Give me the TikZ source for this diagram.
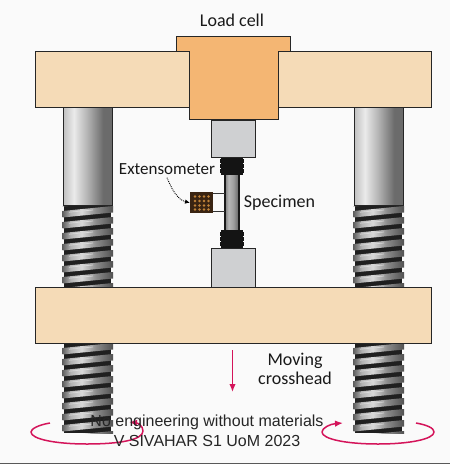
\documentclass[tikz,border=0pt]{standalone}
\usepackage{fontspec}
\setmainfont{Liberation Sans}
\newfontfamily\labelfont{Carlito}
\usetikzlibrary{arrows.meta}
\definecolor{beam}{HTML}{F5DBB7}
\definecolor{cell}{HTML}{F4B673}
\definecolor{gripc}{HTML}{CFD0D2}
\definecolor{redc}{HTML}{D4145A}
\definecolor{bgc}{HTML}{FAFAFA}
\definecolor{boxc}{HTML}{3A2412}
\definecolor{dotc}{HTML}{C08238}
\pgfdeclarehorizontalshading{shaftshade}{100bp}{
  color(0bp)=(black!25); color(25bp)=(black!25); color(36bp)=(black!8); color(50bp)=(black!30);
  color(66bp)=(black!58); color(75bp)=(black!58); color(100bp)=(black!58)}
\pgfdeclarehorizontalshading{threadshade}{100bp}{
  color(0bp)=(black!62); color(25bp)=(black!62); color(33bp)=(black!30); color(44bp)=(black!15);
  color(58bp)=(black!45); color(75bp)=(black!68); color(100bp)=(black!68)}
\pgfdeclarehorizontalshading{specshade}{100bp}{
  color(0bp)=(black!50); color(25bp)=(black!50); color(38bp)=(black!28); color(55bp)=(black!38);
  color(75bp)=(black!62); color(100bp)=(black!62)}
\tikzset{
  outline/.style={draw=black!85,line width=1pt},
  lab/.style={font=\labelfont\fontsize{18}{19}\selectfont,text=black!90,inner sep=0pt,align=center},
  credit/.style={font=\fontsize{16}{18}\selectfont,text=black!85,inner sep=0pt},
  redline/.style={draw=redc,line width=1.5pt},
  redtip/.style={-{Latex[length=8pt,width=6.5pt]}},
}
\newcommand{\shaft}[3]{% x, ytop, ybottom
  \shade[shading=shaftshade] (#1,#2) rectangle (#1+49,#3);
  \draw[black!85,line width=.9pt] (#1,#2) -- (#1,#3) -- (#1+49,#3) -- (#1+49,#2);
}
\newcommand{\thread}[3]{% x, ytop, ybottom
  \fill[black!88] (#1+1,#2) rectangle (#1+48,#3);
  \begin{scope}
    \clip (#1-1,#2) rectangle (#1+51,#3);
    \foreach \yy in {-11,0,...,99}{
      \pgfmathsetmacro{\ya}{#2+\yy}
      \shade[shading=threadshade]
        (#1-.5,\ya+5) -- (#1+50,\ya) -- (#1+50,\ya+6.5) -- (#1-.5,\ya+11.5) -- cycle;
      \draw[white!85!black,line width=.7pt] (#1+6,\ya+6.2) -- (#1+30,\ya+4);
    }
  \end{scope}
}
\begin{document}
\begin{tikzpicture}[x=1pt,y=-1pt]
\useasboundingbox (0,0) rectangle (450,464);
\fill[bgc] (0,0) rectangle (450,464);
\fill[black!65] (0,463) rectangle (450,464);
% screws
\shaft{63}{107}{205}
\shaft{354}{107}{205}
\thread{63}{206}{288}
\thread{354}{206}{288}
\thread{63}{343}{433}
\thread{354}{343}{433}
% top crosshead and load cell
\path[outline,fill=beam] (35,51) rectangle (189,107);
\path[outline,fill=beam] (278,51) rectangle (431,107);
\path[outline,fill=cell] (176,51) -- (176,36) -- (290,36) -- (290,51) -- (278,51) -- (278,119.5) -- (189,119.5) -- (189,51) -- cycle;
% specimen
\shade[shading=specshade] (225,175) rectangle (239,230);
\draw[black!90,line width=1.2pt] (225,175) -- (225,230) (239,175) -- (239,230);
\fill[black!92] (220.5,157) rectangle (243,175);
\fill[black!92] (220.5,230) rectangle (243,248);
\foreach \yy in {159,164,169}{
  \fill[black!92] (219.5,\yy) rectangle (243.5,\yy+4);
}
\foreach \yy in {232,237,242}{
  \fill[black!92] (219.5,\yy) rectangle (243.5,\yy+4);
}
% grips
\path[outline,fill=gripc] (211,120) rectangle (255,157);
\path[outline,fill=gripc] (211,248) rectangle (255,288);
% moving crosshead
\path[outline,fill=beam] (35,287) rectangle (431,343);
% extensometer
\node[fill=boxc,minimum width=23pt,minimum height=21pt,inner sep=0pt,anchor=north west] (ext) at (190,192) {};
\foreach \px in {195,199.5,204,208.5}{
  \foreach \py in {196.5,201,205.5,209.5}{
    \fill[dotc] (\px,\py) circle (1.3);
  }
}
\coordinate (armA) at (213,193.5);
\coordinate (armB) at (225,193.5);
\coordinate (armC) at (213,211);
\coordinate (armD) at (225,211);
\draw[black!80,line width=.5pt] (armA) -- (armB) (armC) -- (armD);
% labels
\node[lab] (lc) at (232,20.5) {Load cell};
\node[lab,font=\labelfont\fontsize{17}{19}\selectfont] (extlab) at (167,169) {Extensometer};
\node[lab] (spec) at (279.5,202.5) {Specimen};
\node[lab] (moving) at (295,368.5) {Moving\\crosshead};
% extensometer pointer
\draw[black,line width=.9pt,densely dotted,-{Latex[length=5pt,width=4.5pt]}] (extlab.south) ++(0,3) coordinate (pstart)
  .. controls (172,190) and (178,200) .. (ext.west);
% red arrows
\coordinate (dA) at (232.5,350);
\coordinate (dB) at (232.5,392);
\draw[redline,redtip] (dA) -- (dB);
\draw[redline] (50,423) .. controls (38,425) and (31,429) .. (31,432)
  .. controls (31,439) and (55,444) .. (87,444)
  .. controls (119,444) and (143,440) .. (143,431);
\draw[redline,redtip] (143,431) .. controls (143,426) and (138,423) .. (129,422);
\draw[redline] (416,423) .. controls (427,425) and (434,428) .. (434,432)
  .. controls (434,439) and (410,444) .. (378,444)
  .. controls (346,444) and (322,439) .. (322,432);
\draw[redline,redtip] (322,432) .. controls (322,428) and (330,424) .. (343,423);
% credits
\node[credit] (c1) at (207,422.5) {No engineering without materials};
\node[credit] (c2) at (207,441) {V SIVAHAR S1 UoM 2023};
\end{tikzpicture}
\end{document}
